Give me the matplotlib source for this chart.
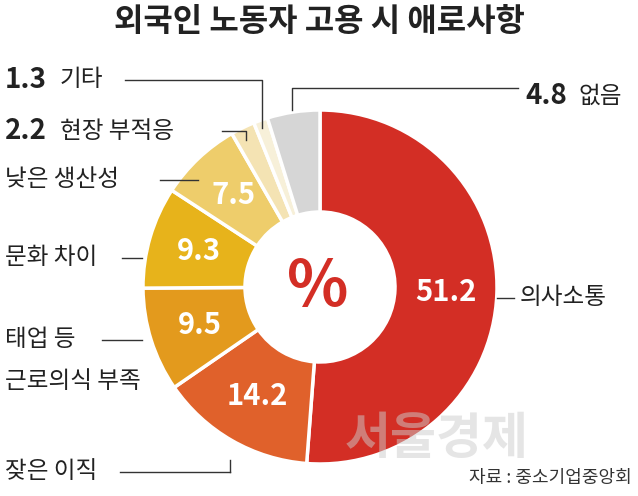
import matplotlib.pyplot as plt
import numpy as np

plt.rcParams['font.family'] = ['Noto Sans CJK KR', 'DejaVu Sans']

values = [51.2, 14.2, 9.5, 9.3, 7.5, 2.2, 1.3, 4.8]
colors = ['#d32e25', '#e0612b', '#e39a1d', '#e7b31b', '#eecd6b', '#f4e3b3', '#f7f0d9', '#d6d6d6']
inner_labels = ['51.2', '14.2', '9.5', '9.3', '7.5', '', '', '']

H = 496
fig = plt.figure(figsize=(6.38, 4.96), dpi=100)
ax = fig.add_axes([0, 0, 1, 1])

cx, cy, R = 320, H - 287, 177
wedges, _ = ax.pie(values, colors=colors, startangle=90, counterclock=False,
                   center=(cx, cy), radius=R, frame=True,
                   wedgeprops=dict(width=R - 75, edgecolor='white', linewidth=2.5))
ax.set_xlim(0, 638)
ax.set_ylim(0, H)
ax.set_aspect('equal')
ax.axis('off')

# values inside the ring
ang = 90.0
for v, lab in zip(values, inner_labels):
    mid = np.deg2rad(ang - v * 3.6 / 2)
    ang -= v * 3.6
    if lab:
        r = 126
        ax.text(cx + r * np.cos(mid), cy + r * np.sin(mid), lab, color='white',
                fontsize=21, fontweight='bold', ha='center', va='center')

ax.text(cx - 2, cy, '%', color='#d32e25', fontsize=46, fontweight='bold', ha='center', va='center')
ax.text(319, H - 22, '외국인 노동자 고용 시 애로사항', fontsize=23, fontweight='bold',
        ha='center', va='center', color='#222222')

def y(p):
    return H - p

lc = '#333333'
lab_kw = dict(fontsize=17, fontweight='medium', va='center', color='#222222')
num_kw = dict(fontsize=20, fontweight='bold', va='center', color='#222222')
# outside labels and leader lines
ax.text(5, y(80), '1.3', **num_kw)
ax.text(60, y(80), '기타', **lab_kw)
ax.plot([125, 262, 262], [y(80), y(80), y(128)], color=lc, lw=1)
ax.text(5, y(131), '2.2', **num_kw)
ax.text(60, y(131), '현장 부적응', **lab_kw)
ax.plot([222, 246, 246], [y(131), y(131), y(140)], color=lc, lw=1)
ax.text(5, y(180), '낮은 생산성', **lab_kw)
ax.plot([160, 198], [y(180), y(180)], color=lc, lw=1)
ax.text(5, y(258), '문화 차이', **lab_kw)
ax.plot([122, 142], [y(258), y(258)], color=lc, lw=1)
ax.text(5, y(340), '태업 등', **lab_kw)
ax.text(5, y(382), '근로의식 부족', **lab_kw)
ax.plot([102, 142], [y(340), y(340)], color=lc, lw=1)
ax.text(5, y(472), '잦은 이직', **lab_kw)
ax.plot([120, 230], [y(472), y(472)], color=lc, lw=1)
ax.plot([230, 230], [y(472), y(460)], color=lc, lw=1)
ax.text(520, y(298), '의사소통', **lab_kw)
ax.plot([497, 514], [y(298), y(298)], color=lc, lw=1)
ax.text(525, y(96), '4.8', **num_kw)
ax.text(578, y(96), '없음', **lab_kw)
ax.plot([292, 292, 518], [y(110), y(88), y(88)], color=lc, lw=1)

ax.text(345, y(440), '서울경제', fontsize=36, fontweight='bold', color='#cccccc', alpha=0.5, va='center')
ax.text(632, y(478), '자료 : 중소기업중앙회', fontsize=13, ha='right', va='center', color='#333333')

fig.savefig('out.png', dpi=100, facecolor='white')
